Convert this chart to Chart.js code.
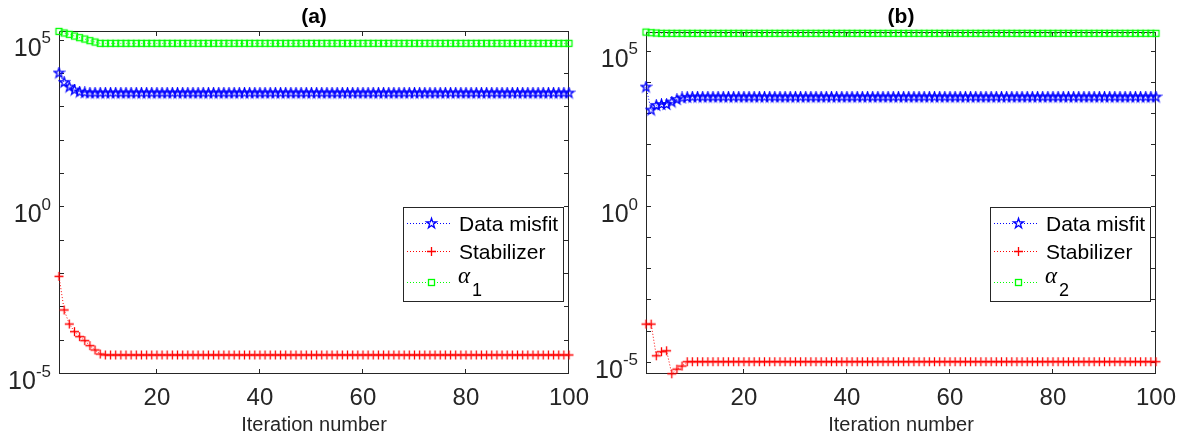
<!DOCTYPE html>
<html>
<head>
<meta charset="utf-8">
<script src="https://cdn.jsdelivr.net/npm/chart.js@4.4.0/dist/chart.umd.min.js"></script>
<style>
body { margin: 0; background: #fff; width: 1177px; height: 441px; overflow: hidden; }
canvas { position: absolute; top: 0; }
#chartA { left: 0; }
#chartB { left: 590px; }
</style>
</head>
<body>
<canvas id="chartA" width="590" height="441"></canvas>
<canvas id="chartB" width="587" height="441"></canvas>
<script>
// iteration numbers on the x axis
const iterations = Array.from({ length: 100 }, (_, i) => i + 1)
const xTicks = [20, 40, 60, 80, 100]
const yLabelPowers = [-5, 0, 5]
const seriesNames = ["Data misfit", "Stabilizer", "α"]

// panel (a)
const misfitA = [
  1.07e4, 5.62e3, 4.07e3, 3.31e3, 2.88e3, 2.75e3, 2.69e3, 2.69e3, 2.69e3, 2.69e3,
  2.69e3, 2.69e3, 2.69e3, 2.69e3, 2.69e3, 2.69e3, 2.69e3, 2.69e3, 2.69e3, 2.69e3,
  2.69e3, 2.69e3, 2.69e3, 2.69e3, 2.69e3, 2.69e3, 2.69e3, 2.69e3, 2.69e3, 2.69e3,
  2.69e3, 2.69e3, 2.69e3, 2.69e3, 2.69e3, 2.69e3, 2.69e3, 2.69e3, 2.69e3, 2.69e3,
  2.69e3, 2.69e3, 2.69e3, 2.69e3, 2.69e3, 2.69e3, 2.69e3, 2.69e3, 2.69e3, 2.69e3,
  2.69e3, 2.69e3, 2.69e3, 2.69e3, 2.69e3, 2.69e3, 2.69e3, 2.69e3, 2.69e3, 2.69e3,
  2.69e3, 2.69e3, 2.69e3, 2.69e3, 2.69e3, 2.69e3, 2.69e3, 2.69e3, 2.69e3, 2.69e3,
  2.69e3, 2.69e3, 2.69e3, 2.69e3, 2.69e3, 2.69e3, 2.69e3, 2.69e3, 2.69e3, 2.69e3,
  2.69e3, 2.69e3, 2.69e3, 2.69e3, 2.69e3, 2.69e3, 2.69e3, 2.69e3, 2.69e3, 2.69e3,
  2.69e3, 2.69e3, 2.69e3, 2.69e3, 2.69e3, 2.69e3, 2.69e3, 2.69e3, 2.69e3, 2.69e3
]
const stabilizerA = [
  8.51e-3, 8.32e-4, 3.16e-4, 1.86e-4, 1.32e-4, 1.0e-4, 7.08e-5, 5.25e-5, 3.98e-5, 3.72e-5,
  3.72e-5, 3.72e-5, 3.72e-5, 3.72e-5, 3.72e-5, 3.72e-5, 3.72e-5, 3.72e-5, 3.72e-5, 3.72e-5,
  3.72e-5, 3.72e-5, 3.72e-5, 3.72e-5, 3.72e-5, 3.72e-5, 3.72e-5, 3.72e-5, 3.72e-5, 3.72e-5,
  3.72e-5, 3.72e-5, 3.72e-5, 3.72e-5, 3.72e-5, 3.72e-5, 3.72e-5, 3.72e-5, 3.72e-5, 3.72e-5,
  3.72e-5, 3.72e-5, 3.72e-5, 3.72e-5, 3.72e-5, 3.72e-5, 3.72e-5, 3.72e-5, 3.72e-5, 3.72e-5,
  3.72e-5, 3.72e-5, 3.72e-5, 3.72e-5, 3.72e-5, 3.72e-5, 3.72e-5, 3.72e-5, 3.72e-5, 3.72e-5,
  3.72e-5, 3.72e-5, 3.72e-5, 3.72e-5, 3.72e-5, 3.72e-5, 3.72e-5, 3.72e-5, 3.72e-5, 3.72e-5,
  3.72e-5, 3.72e-5, 3.72e-5, 3.72e-5, 3.72e-5, 3.72e-5, 3.72e-5, 3.72e-5, 3.72e-5, 3.72e-5,
  3.72e-5, 3.72e-5, 3.72e-5, 3.72e-5, 3.72e-5, 3.72e-5, 3.72e-5, 3.72e-5, 3.72e-5, 3.72e-5,
  3.72e-5, 3.72e-5, 3.72e-5, 3.72e-5, 3.72e-5, 3.72e-5, 3.72e-5, 3.72e-5, 3.72e-5, 3.72e-5
]
const alphaA = [
  1.9e5, 1.7e5, 1.55e5, 1.38e5, 1.23e5, 1.12e5, 1.0e5, 9.12e4, 8.32e4, 8.32e4,
  8.32e4, 8.32e4, 8.32e4, 8.32e4, 8.32e4, 8.32e4, 8.32e4, 8.32e4, 8.32e4, 8.32e4,
  8.32e4, 8.32e4, 8.32e4, 8.32e4, 8.32e4, 8.32e4, 8.32e4, 8.32e4, 8.32e4, 8.32e4,
  8.32e4, 8.32e4, 8.32e4, 8.32e4, 8.32e4, 8.32e4, 8.32e4, 8.32e4, 8.32e4, 8.32e4,
  8.32e4, 8.32e4, 8.32e4, 8.32e4, 8.32e4, 8.32e4, 8.32e4, 8.32e4, 8.32e4, 8.32e4,
  8.32e4, 8.32e4, 8.32e4, 8.32e4, 8.32e4, 8.32e4, 8.32e4, 8.32e4, 8.32e4, 8.32e4,
  8.32e4, 8.32e4, 8.32e4, 8.32e4, 8.32e4, 8.32e4, 8.32e4, 8.32e4, 8.32e4, 8.32e4,
  8.32e4, 8.32e4, 8.32e4, 8.32e4, 8.32e4, 8.32e4, 8.32e4, 8.32e4, 8.32e4, 8.32e4,
  8.32e4, 8.32e4, 8.32e4, 8.32e4, 8.32e4, 8.32e4, 8.32e4, 8.32e4, 8.32e4, 8.32e4,
  8.32e4, 8.32e4, 8.32e4, 8.32e4, 8.32e4, 8.32e4, 8.32e4, 8.32e4, 8.32e4, 8.32e4
]

// panel (b)
const misfitB = [
  7.41e3, 1.35e3, 1.91e3, 2.04e3, 2.04e3, 2.45e3, 2.95e3, 3.31e3, 3.47e3, 3.55e3,
  3.55e3, 3.55e3, 3.55e3, 3.55e3, 3.55e3, 3.55e3, 3.55e3, 3.55e3, 3.55e3, 3.55e3,
  3.55e3, 3.55e3, 3.55e3, 3.55e3, 3.55e3, 3.55e3, 3.55e3, 3.55e3, 3.55e3, 3.55e3,
  3.55e3, 3.55e3, 3.55e3, 3.55e3, 3.55e3, 3.55e3, 3.55e3, 3.55e3, 3.55e3, 3.55e3,
  3.55e3, 3.55e3, 3.55e3, 3.55e3, 3.55e3, 3.55e3, 3.55e3, 3.55e3, 3.55e3, 3.55e3,
  3.55e3, 3.55e3, 3.55e3, 3.55e3, 3.55e3, 3.55e3, 3.55e3, 3.55e3, 3.55e3, 3.55e3,
  3.55e3, 3.55e3, 3.55e3, 3.55e3, 3.55e3, 3.55e3, 3.55e3, 3.55e3, 3.55e3, 3.55e3,
  3.55e3, 3.55e3, 3.55e3, 3.55e3, 3.55e3, 3.55e3, 3.55e3, 3.55e3, 3.55e3, 3.55e3,
  3.55e3, 3.55e3, 3.55e3, 3.55e3, 3.55e3, 3.55e3, 3.55e3, 3.55e3, 3.55e3, 3.55e3,
  3.55e3, 3.55e3, 3.55e3, 3.55e3, 3.55e3, 3.55e3, 3.55e3, 3.55e3, 3.55e3, 3.55e3
]
const stabilizerB = [
  1.74e-4, 1.74e-4, 1.66e-5, 2.24e-5, 2.4e-5, 4.37e-6, 6.17e-6, 7.76e-6, 1.07e-5, 1.07e-5,
  1.07e-5, 1.07e-5, 1.07e-5, 1.07e-5, 1.07e-5, 1.07e-5, 1.07e-5, 1.07e-5, 1.07e-5, 1.07e-5,
  1.07e-5, 1.07e-5, 1.07e-5, 1.07e-5, 1.07e-5, 1.07e-5, 1.07e-5, 1.07e-5, 1.07e-5, 1.07e-5,
  1.07e-5, 1.07e-5, 1.07e-5, 1.07e-5, 1.07e-5, 1.07e-5, 1.07e-5, 1.07e-5, 1.07e-5, 1.07e-5,
  1.07e-5, 1.07e-5, 1.07e-5, 1.07e-5, 1.07e-5, 1.07e-5, 1.07e-5, 1.07e-5, 1.07e-5, 1.07e-5,
  1.07e-5, 1.07e-5, 1.07e-5, 1.07e-5, 1.07e-5, 1.07e-5, 1.07e-5, 1.07e-5, 1.07e-5, 1.07e-5,
  1.07e-5, 1.07e-5, 1.07e-5, 1.07e-5, 1.07e-5, 1.07e-5, 1.07e-5, 1.07e-5, 1.07e-5, 1.07e-5,
  1.07e-5, 1.07e-5, 1.07e-5, 1.07e-5, 1.07e-5, 1.07e-5, 1.07e-5, 1.07e-5, 1.07e-5, 1.07e-5,
  1.07e-5, 1.07e-5, 1.07e-5, 1.07e-5, 1.07e-5, 1.07e-5, 1.07e-5, 1.07e-5, 1.07e-5, 1.07e-5,
  1.07e-5, 1.07e-5, 1.07e-5, 1.07e-5, 1.07e-5, 1.07e-5, 1.07e-5, 1.07e-5, 1.07e-5, 1.07e-5
]
const alphaB = [
  4.37e5, 4.17e5, 4.07e5, 3.98e5, 3.98e5, 3.98e5, 3.98e5, 3.98e5, 3.98e5, 3.98e5,
  3.98e5, 3.98e5, 3.98e5, 3.98e5, 3.98e5, 3.98e5, 3.98e5, 3.98e5, 3.98e5, 3.98e5,
  3.98e5, 3.98e5, 3.98e5, 3.98e5, 3.98e5, 3.98e5, 3.98e5, 3.98e5, 3.98e5, 3.98e5,
  3.98e5, 3.98e5, 3.98e5, 3.98e5, 3.98e5, 3.98e5, 3.98e5, 3.98e5, 3.98e5, 3.98e5,
  3.98e5, 3.98e5, 3.98e5, 3.98e5, 3.98e5, 3.98e5, 3.98e5, 3.98e5, 3.98e5, 3.98e5,
  3.98e5, 3.98e5, 3.98e5, 3.98e5, 3.98e5, 3.98e5, 3.98e5, 3.98e5, 3.98e5, 3.98e5,
  3.98e5, 3.98e5, 3.98e5, 3.98e5, 3.98e5, 3.98e5, 3.98e5, 3.98e5, 3.98e5, 3.98e5,
  3.98e5, 3.98e5, 3.98e5, 3.98e5, 3.98e5, 3.98e5, 3.98e5, 3.98e5, 3.98e5, 3.98e5,
  3.98e5, 3.98e5, 3.98e5, 3.98e5, 3.98e5, 3.98e5, 3.98e5, 3.98e5, 3.98e5, 3.98e5,
  3.98e5, 3.98e5, 3.98e5, 3.98e5, 3.98e5, 3.98e5, 3.98e5, 3.98e5, 3.98e5, 3.98e5
]

const sans = '"Liberation Sans", Arial, Helvetica, sans-serif'
const axisColor = "#262626"

// marker shapes, used for the points and again in the legend
function drawStar(g, x, y) {
    g.strokeStyle = "#0000ff"
    g.lineWidth = 1.3
    g.beginPath()
    for (let k = 0; k < 10; k++) {
        const r = k % 2 ? 2.0 : 5.2
        const a = -Math.PI / 2 + k * Math.PI / 5
        g.lineTo(x + r * Math.cos(a), y + r * Math.sin(a))
    }
    g.closePath()
    g.stroke()
}
function drawPlus(g, x, y) {
    g.strokeStyle = "#ff0000"
    g.lineWidth = 1.3
    g.beginPath()
    g.moveTo(x - 4.5, y); g.lineTo(x + 4.5, y)
    g.moveTo(x, y - 4.5); g.lineTo(x, y + 4.5)
    g.stroke()
}
function drawSquare(g, x, y) {
    g.strokeStyle = "#00ff00"
    g.lineWidth = 1.3
    g.strokeRect(x - 3, y - 3, 6, 6)
}
function markerCanvas(size, draw) {
    const c = document.createElement("canvas")
    c.width = size
    c.height = size
    draw(c.getContext("2d"), size / 2, size / 2)
    return c
}
const markers = [
    { img: markerCanvas(13, drawStar), draw: drawStar },
    { img: markerCanvas(11, drawPlus), draw: drawPlus },
    { img: markerCanvas(11, drawSquare), draw: drawSquare }
]

// box, inward ticks, title, 10^n labels and the legend, MATLAB style
const frame = {
    id: "frame",
    beforeDatasetsDraw(chart, args, opts) {
        const { ctx, chartArea: a } = chart
        const xs = chart.scales.x, ys = chart.scales.y
        ctx.save()
        ctx.strokeStyle = axisColor
        ctx.lineWidth = 1
        ctx.strokeRect(a.left + 0.5, a.top + 0.5, a.right - a.left - 1, a.bottom - a.top - 1)
        ctx.beginPath()
        xTicks.forEach(v => {
            const px = Math.round(xs.getPixelForValue(v)) - 0.5
            ctx.moveTo(px, a.bottom); ctx.lineTo(px, a.bottom - 5)
            ctx.moveTo(px, a.top); ctx.lineTo(px, a.top + 5)
        })
        const p0 = Math.ceil(Math.log10(ys.min) - 1e-9), p1 = Math.floor(Math.log10(ys.max) + 1e-9)
        for (let p = p0; p <= p1; p++) {
            const py = Math.round(ys.getPixelForValue(Math.pow(10, p))) - 0.5
            ctx.moveTo(a.left, py); ctx.lineTo(a.left + 5, py)
            ctx.moveTo(a.right, py); ctx.lineTo(a.right - 5, py)
        }
        ctx.stroke()

        ctx.fillStyle = "#000"
        ctx.font = "bold 21px " + sans
        ctx.textAlign = "center"
        ctx.textBaseline = "middle"
        ctx.fillText(opts.title, (a.left + a.right) / 2, 17)

        ctx.textAlign = "left"
        ctx.fillStyle = axisColor
        ctx.textBaseline = "alphabetic"
        yLabelPowers.forEach(p => {
            const py = ys.getPixelForValue(Math.pow(10, p))
            const ex = String(p)
            ctx.font = "17px " + sans
            const ew = ctx.measureText(ex).width
            ctx.font = "25px " + sans
            const bw = ctx.measureText("10").width
            const x0 = a.left - 8 - ew - bw
            ctx.fillText("10", x0, py + 15)
            ctx.font = "17px " + sans
            ctx.fillText(ex, x0 + bw, py + 2.5)
        })
        ctx.restore()
    },
    afterDatasetsDraw(chart, args, opts) {
        const { ctx, chartArea: a } = chart
        const bx = a.right - 166, by = 207, bw = 160, bh = 94
        const rows = [16, 44, 75]
        ctx.save()
        ctx.fillStyle = "#fff"
        ctx.fillRect(bx, by, bw, bh)
        ctx.strokeStyle = axisColor
        ctx.lineWidth = 1
        ctx.strokeRect(bx + 0.5, by + 0.5, bw, bh)
        chart.data.datasets.forEach((ds, i) => {
            const ry = by + rows[i] + 0.5
            ctx.strokeStyle = ds.borderColor
            ctx.lineWidth = 1
            ctx.setLineDash([1, 2])
            ctx.beginPath()
            ctx.moveTo(bx + 4, ry)
            ctx.lineTo(bx + 48, ry)
            ctx.stroke()
            ctx.setLineDash([])
            ctx.fillStyle = "#fff"
            ctx.fillRect(bx + 24, ry - 4, 9, 8)
            markers[i].draw(ctx, bx + 28.5, ry)
            ctx.fillStyle = "#000"
            ctx.textBaseline = "middle"
            if (i < 2) {
                ctx.font = "21px " + sans
                ctx.fillText(ds.label, bx + 56, ry + 2)
            } else {
                ctx.font = 'italic 23px "Liberation Serif", "DejaVu Serif", serif'
                ctx.fillText(ds.label, bx + 55, ry - 6)
                const w = ctx.measureText(ds.label).width
                ctx.font = "18px " + sans
                ctx.fillText(opts.sub, bx + 57 + w, ry + 9)
            }
        })
        ctx.restore()
    }
}

function makePanel(id, title, misfit, stab, alpha, yMin, yMax, sub, yWidth, top) {
    const line = (i, data, color) => ({
        label: seriesNames[i], data, borderColor: color, borderWidth: 1, borderDash: [1, 2],
        pointStyle: markers[i].img, pointRadius: 5, fill: false, tension: 0, clip: false
    })
    return new Chart(document.getElementById(id), {
        type: "line",
        data: {
            labels: iterations,
            datasets: [
                line(0, misfit, "#0000ff"),
                line(1, stab, "#ff0000"),
                line(2, alpha, "#00ff00")
            ]
        },
        options: {
            responsive: false,
            animation: false,
            devicePixelRatio: 1,
            events: [],
            layout: { padding: { left: 0, right: 21, top: top, bottom: 0 } },
            plugins: {
                legend: { display: false },
                tooltip: { enabled: false },
                frame: { sub, title }
            },
            scales: {
                x: {
                    type: "linear", min: 1, max: 100,
                    afterBuildTicks: s => { s.ticks = xTicks.map(v => ({ value: v })) },
                    afterFit: s => { s.height = 67; s.paddingLeft = 0; s.paddingRight = 0 },
                    grid: { display: false, drawTicks: false },
                    border: { display: false },
                    ticks: { color: axisColor, font: { family: sans, size: 24 }, padding: 10, autoSkip: false, maxRotation: 0 },
                    title: {
                        display: true, text: "Iteration number", color: axisColor,
                        font: { family: sans, size: 20 }, padding: { top: 0, bottom: 4 }
                    }
                },
                y: {
                    type: "logarithmic", min: yMin, max: yMax,
                    afterFit: s => { s.width = yWidth; s.paddingTop = 0; s.paddingBottom = 0 },
                    grid: { display: false, drawTicks: false },
                    border: { display: false },
                    ticks: { display: false }
                }
            }
        },
        plugins: [frame]
    })
}

makePanel("chartA", "(a)", misfitA, stabilizerA, alphaA, 1e-5, 1.95e5, "1", 59, 31)
makePanel("chartB", "(b)", misfitB, stabilizerB, alphaB, 4.3e-6, 4.4e5, "2", 56, 32)
</script>
</body>
</html>
